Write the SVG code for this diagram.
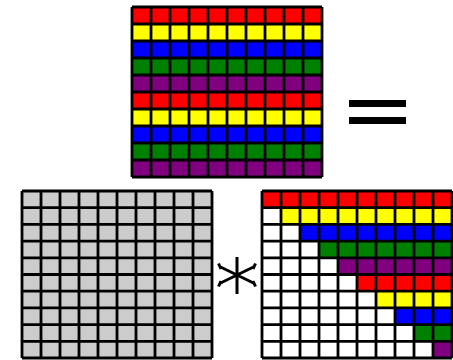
<svg xmlns="http://www.w3.org/2000/svg" width="453" height="360" viewBox="0 0 453 360">
<style>
.grid{fill:none;stroke:#000;stroke-width:2.8}
.r{fill:#ff0000}.y{fill:#ffff00}.b{fill:#0000ff}.g{fill:#008000}.p{fill:#800080}
.sym{stroke:#000;stroke-width:3;fill:none;stroke-linecap:butt}
</style>
<rect width="453" height="360" fill="#fff"/>
<g id="result">
<rect class="r" x="132" y="7" width="190" height="17"/>
<rect class="y" x="132" y="24" width="190" height="17"/>
<rect class="b" x="132" y="41" width="190" height="17"/>
<rect class="g" x="132" y="58" width="190" height="17"/>
<rect class="p" x="132" y="75" width="190" height="17"/>
<rect class="r" x="132" y="92" width="190" height="17"/>
<rect class="y" x="132" y="109" width="190" height="17"/>
<rect class="b" x="132" y="126" width="190" height="17"/>
<rect class="g" x="132" y="143" width="190" height="17"/>
<rect class="p" x="132" y="160" width="190" height="17"/>
<path class="grid" d="M132 7V177M151 7V177M170 7V177M189 7V177M208 7V177M227 7V177M246 7V177M265 7V177M284 7V177M303 7V177M322 7V177M132 7H322M132 24H322M132 41H322M132 58H322M132 75H322M132 92H322M132 109H322M132 126H322M132 143H322M132 160H322M132 177H322"/>
</g>
<g id="equals">
<rect x="349" y="100" width="57" height="7" fill="#000"/>
<rect x="349" y="117" width="57" height="7" fill="#000"/>
</g>
<g id="left-matrix">
<rect x="22" y="191" width="190" height="167" fill="#cccccc"/>
<path class="grid" d="M22 191V358M41 191V358M60 191V358M79 191V358M98 191V358M117 191V358M136 191V358M155 191V358M174 191V358M193 191V358M212 191V358M22 191H212M22 207.7H212M22 224.4H212M22 241.1H212M22 257.8H212M22 274.5H212M22 291.2H212M22 307.9H212M22 324.6H212M22 341.3H212M22 358H212"/>
</g>
<g id="times">
<path class="sym" d="M237 257V294M237 275L219.5 266.5M237 275L219.5 283.5M237 275L254.5 266.5M237 275L254.5 283.5"/>
<path class="sym" d="M218.5 263.5L221 269M218.5 286.5L221 281M255.5 263.5L253 269M255.5 286.5L253 281"/>
</g>
<g id="right-matrix">
<rect x="262" y="191" width="190" height="167" fill="#fff"/>
<rect class="r" x="262" y="191" width="190" height="16.7"/>
<rect class="y" x="281" y="207.7" width="171" height="16.7"/>
<rect class="b" x="300" y="224.4" width="152" height="16.7"/>
<rect class="g" x="319" y="241.1" width="133" height="16.7"/>
<rect class="p" x="338" y="257.8" width="114" height="16.7"/>
<rect class="r" x="357" y="274.5" width="95" height="16.7"/>
<rect class="y" x="376" y="291.2" width="76" height="16.7"/>
<rect class="b" x="395" y="307.9" width="57" height="16.7"/>
<rect class="g" x="414" y="324.6" width="38" height="16.7"/>
<rect class="p" x="433" y="341.3" width="19" height="16.7"/>
<path class="grid" d="M262 191V358M281 191V358M300 191V358M319 191V358M338 191V358M357 191V358M376 191V358M395 191V358M414 191V358M433 191V358M452 191V358M262 191H452M262 207.7H452M262 224.4H452M262 241.1H452M262 257.8H452M262 274.5H452M262 291.2H452M262 307.9H452M262 324.6H452M262 341.3H452M262 358H452"/>
</g>
</svg>
